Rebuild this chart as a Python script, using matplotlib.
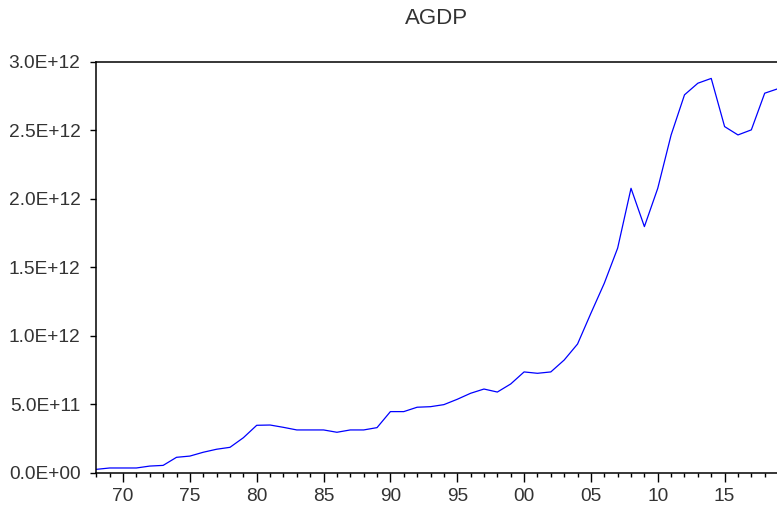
import matplotlib.pyplot as plt
from matplotlib.ticker import FixedLocator, MultipleLocator, FuncFormatter
import numpy as np

plt.rcParams['font.family'] = ['Liberation Sans', 'DejaVu Sans']

years = np.arange(1968, 2020)
agdp = np.array([
    0.023, 0.033, 0.033, 0.033, 0.047, 0.052, 0.111, 0.120, 0.148, 0.170,
    0.184, 0.254, 0.345, 0.347, 0.330, 0.311, 0.311, 0.311, 0.294, 0.311,
    0.311, 0.328, 0.445, 0.445, 0.477, 0.481, 0.496, 0.535, 0.579, 0.610,
    0.588, 0.647, 0.735, 0.725, 0.735, 0.822, 0.939, 1.164, 1.383, 1.640,
    2.077, 1.797, 2.077, 2.467, 2.760, 2.845, 2.880, 2.528, 2.467, 2.504,
    2.772, 2.805,
]) * 1e12

y_ticks = [0, 0.5e12, 1.0e12, 1.5e12, 2.0e12, 2.5e12, 3.0e12]
y_labels = ['0.0E+00', '5.0E+11', '1.0E+12', '1.5E+12', '2.0E+12', '2.5E+12', '3.0E+12']
x_major = [1970, 1975, 1980, 1985, 1990, 1995, 2000, 2005, 2010, 2015]

fig = plt.figure(figsize=(7.77, 5.07), dpi=100)
ax = fig.add_axes([95.5 / 777, 34.5 / 507, 1 - 95.5 / 777, 410.5 / 507])

ax.plot(years, agdp, color='#0000ff', lw=0.9)

ax.set_xlim(1967.94, 2018.92)
ax.set_ylim(0, 3.0e12)

ax.set_yticks(y_ticks)
ax.set_yticklabels(y_labels)
ax.xaxis.set_major_locator(FixedLocator(x_major))
ax.xaxis.set_minor_locator(MultipleLocator(1))
ax.xaxis.set_major_formatter(FuncFormatter(lambda v, p: '%02d' % (int(round(v)) % 100)))

txt = '#333333'
ax.tick_params(axis='y', direction='out', length=4.3, width=1.0, pad=6.5,
               labelsize=13.8, labelcolor=txt)
ax.tick_params(axis='x', which='major', direction='out', length=6.5, width=1.0,
               pad=5, labelsize=13.8, labelcolor=txt)
ax.tick_params(axis='x', which='minor', direction='out', length=3.0, width=1.0)

ax.spines['right'].set_visible(False)
for s in ('left', 'top', 'bottom'):
    ax.spines[s].set_linewidth(1.1)
    ax.spines[s].set_color('black')

fig.text((95.5 + 777) / 2 / 777, 1 - 18.5 / 507, 'AGDP', ha='center', va='center',
         fontsize=16, color=txt)

fig.savefig('out.png', dpi=100)
